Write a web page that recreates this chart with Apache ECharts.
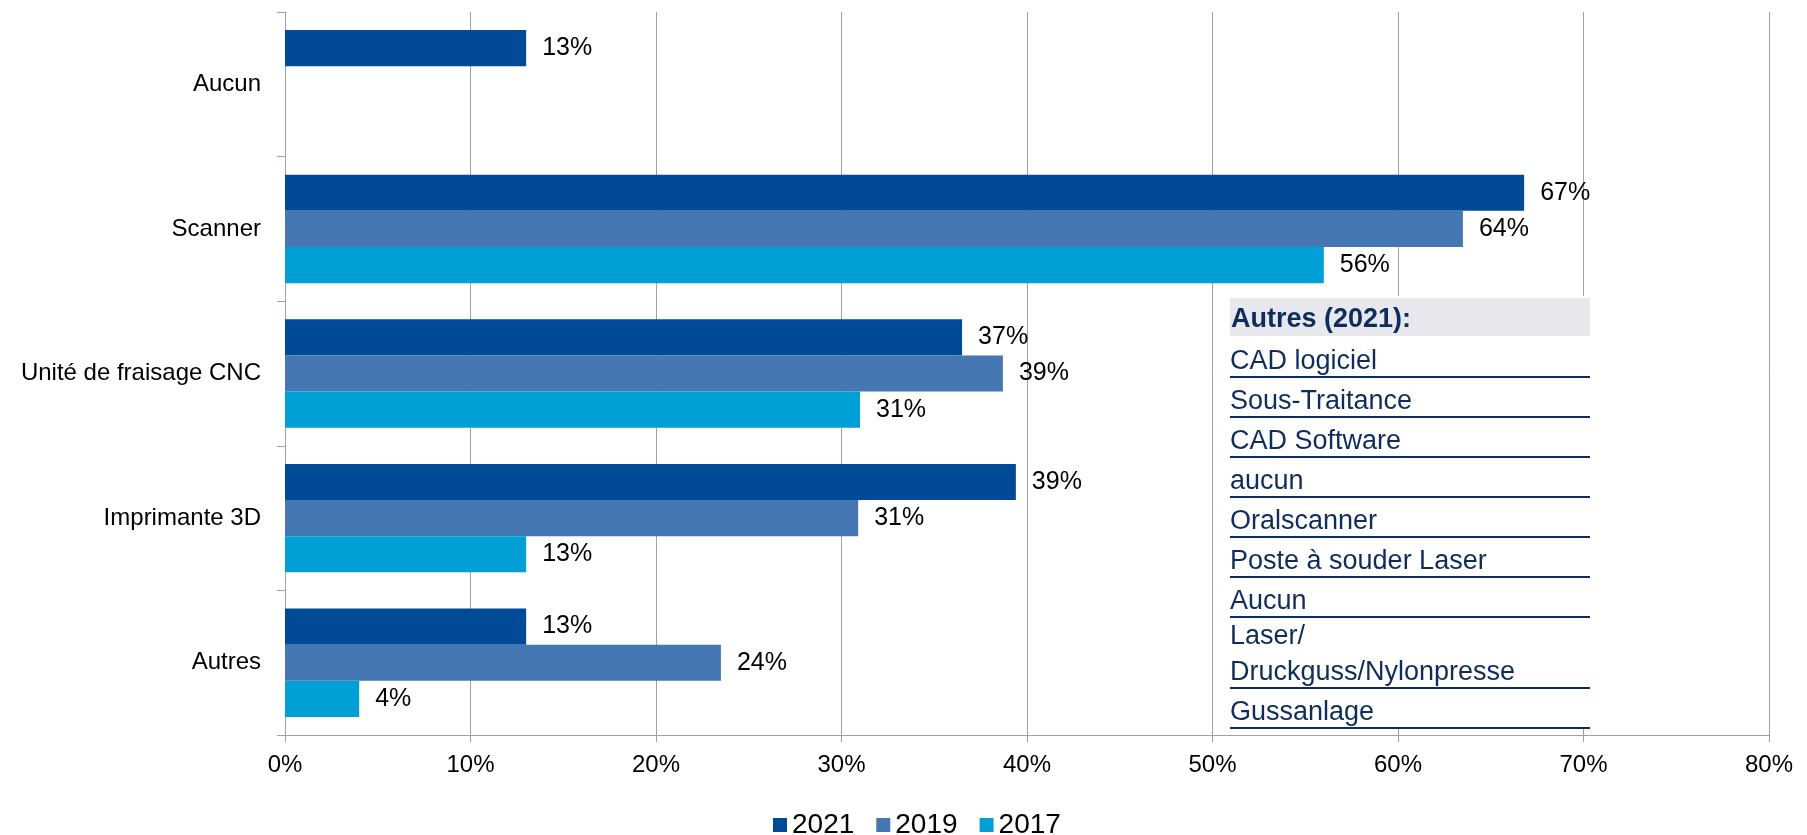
<!DOCTYPE html>
<html>
<head>
<meta charset="utf-8">
<script src="https://cdn.jsdelivr.net/npm/echarts@6/dist/echarts.min.js"></script>
<style>
  html, body { margin: 0; padding: 0; background: #fff; }
  #chart { width: 1807px; height: 835px; }
</style>
</head>
<body>
<div id="chart"></div>
<script>
// categories, top to bottom
var categories = ['Aucun', 'Scanner', 'Unité de fraisage CNC', 'Imprimante 3D', 'Autres'];
var seriesNames = ['2021', '2019', '2017'];
var values2021 = [13, 66.8, 36.5, 39.4, 13];
var values2019 = [null, 63.5, 38.7, 30.9, 23.5];
var values2017 = [null, 56, 31, 13, 4];
var xTicks = [0, 10, 20, 30, 40, 50, 60, 70, 80];
// box "Autres (2021):"
var autresTitle = 'Autres (2021):';
var autresItems = ['CAD logiciel', 'Sous-Traitance', 'CAD Software', 'aucun', 'Oralscanner',
  'Poste à souder Laser', 'Aucun', 'Laser/\nDruckguss/Nylonpresse', 'Gussanlage'];

var colors = ['#004A98', '#4577B2', '#00A0D7'];
var FONT = '"Liberation Sans", Arial, sans-serif';
var NAVY = '#0F2D5C';
var GRID = '#A0A0A0';

var chart = echarts.init(document.getElementById('chart'));

function makeSeries(name, data, color) {
  return {
    name: name,
    type: 'bar',
    data: data,
    barGap: '0%',
    barCategoryGap: '25%',
    itemStyle: { color: color },
    label: {
      show: true,
      position: 'right',
      distance: 16,
      fontFamily: FONT,
      fontSize: 25,
      color: '#000',
      formatter: function (p) { return Math.round(p.value) + '%'; }
    }
  };
}

// build the overlay box with graphic elements
var boxLeft = 1230, boxRight = 1590, boxTop = 298;
var graphics = [];
graphics.push({
  type: 'rect', z: 100,
  shape: { x: boxLeft - 3, y: boxTop - 2, width: boxRight - boxLeft + 6, height: 432 },
  style: { fill: '#fff' }
});
graphics.push({
  type: 'rect', z: 101,
  shape: { x: boxLeft, y: boxTop, width: boxRight - boxLeft, height: 38 },
  style: { fill: '#E7E8EE' }
});
graphics.push({
  type: 'text', z: 102, x: boxLeft + 1, y: boxTop + 35,
  style: { text: autresTitle, fontFamily: FONT, fontSize: 27, fontWeight: 'bold',
    fill: NAVY, verticalAlign: 'bottom' }
});
var lineY = boxTop + 39;
autresItems.forEach(function (txt) {
  var nLines = txt.split('\n').length;
  lineY += 40 + 31 * (nLines - 1);
  graphics.push({
    type: 'text', z: 102, x: boxLeft, y: lineY + 3,
    style: { text: txt, fontFamily: FONT, fontSize: 27, lineHeight: 36,
      fill: NAVY, verticalAlign: 'bottom' }
  });
  graphics.push({
    type: 'line', z: 102,
    shape: { x1: boxLeft, y1: lineY, x2: boxRight, y2: lineY },
    style: { stroke: NAVY, lineWidth: 2 }
  });
});

chart.setOption({
  animation: false,
  color: colors,
  grid: { left: 285, right: 38, top: 12, bottom: 100, containLabel: false },
  legend: {
    data: seriesNames,
    left: 773,
    top: 811,
    padding: 0,
    icon: 'rect',
    itemWidth: 14,
    itemHeight: 14,
    itemGap: 22,
    textStyle: { fontFamily: FONT, fontSize: 28, color: '#000' }
  },
  xAxis: {
    type: 'value',
    min: xTicks[0],
    max: xTicks[xTicks.length - 1],
    interval: 10,
    axisLine: { show: true, lineStyle: { color: GRID, width: 1 } },
    axisTick: { show: true, length: 7, lineStyle: { color: GRID } },
    splitLine: { show: true, lineStyle: { color: GRID, width: 1 } },
    axisLabel: { formatter: '{value}%', fontFamily: FONT, fontSize: 24, color: '#000', margin: 18 }
  },
  yAxis: {
    type: 'category',
    inverse: true,
    data: categories,
    axisLine: { show: true, lineStyle: { color: GRID, width: 1 } },
    axisTick: { show: true, length: 8, lineStyle: { color: GRID } },
    axisLabel: { fontFamily: FONT, fontSize: 24, color: '#000', margin: 24 }
  },
  series: [
    makeSeries(seriesNames[0], values2021, colors[0]),
    makeSeries(seriesNames[1], values2019, colors[1]),
    makeSeries(seriesNames[2], values2017, colors[2])
  ],
  graphic: graphics
});
</script>
</body>
</html>
